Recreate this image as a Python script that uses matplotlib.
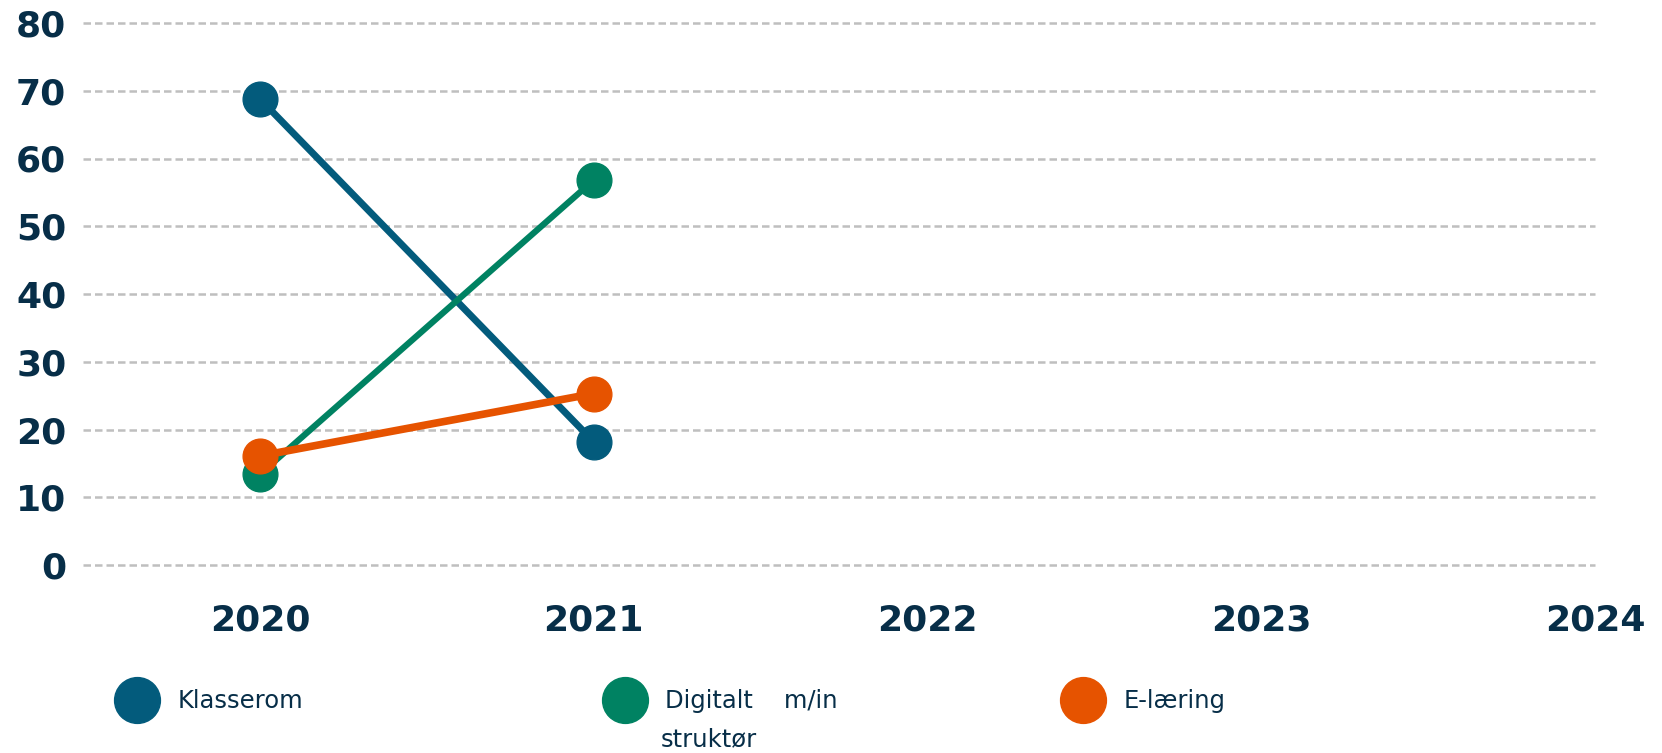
import matplotlib
matplotlib.use("Agg")
import matplotlib.pyplot as plt
from matplotlib.lines import Line2D

# data
years = [2020, 2021]
year_ticks = [2020, 2021, 2022, 2023, 2024]
klasserom = [68.8, 18.2]
digitalt = [13.4, 56.8]
elaering = [16.1, 25.3]
series_names = ["Klasserom", "Digitalt    m/in", "E-læring"]
series_colors = ["#035B7C", "#008262", "#E65300"]
y_ticks = [0, 10, 20, 30, 40, 50, 60, 70, 80]

text_col = "#072E48"
plt.rcParams['font.family'] = ['DejaVu Sans']

fig = plt.figure(figsize=(16.62, 7.53), dpi=100)
ax = fig.add_axes([83 / 1662, 188 / 753, 1512 / 1662, 542 / 753])

for vals, col, lw in zip([klasserom, digitalt, elaering], series_colors, [5, 4.5, 5.5]):
    ax.plot(years, vals, color=col, lw=lw, marker="o", markersize=25,
            solid_capstyle="butt", zorder=3)

ax.set_ylim(0, 80)
ax.set_xlim(2019.47, 2024)
ax.set_yticks(y_ticks)
ax.set_xticks(year_ticks)
ax.yaxis.grid(True, color="#BFBFBF", lw=1.8, ls=(0, (3.0, 1.6)), zorder=0)
for gl in ax.yaxis.get_gridlines():
    gl.set_clip_on(False)  # keep the 0 and 80 lines at full width
ax.tick_params(length=0)
ax.tick_params(axis="y", pad=12)
ax.tick_params(axis="x", pad=28)
for lab in ax.get_yticklabels() + ax.get_xticklabels():
    lab.set_fontsize(26)
    lab.set_fontweight("heavy")
    lab.set_color(text_col)
for s in ax.spines.values():
    s.set_visible(False)
ax.set_facecolor("none")

# legend entries, placed one by one like the original
leg_x = [138, 626, 1084]
for name, col, xc in zip(series_names, series_colors, leg_x):
    h = Line2D([], [], marker="o", ls="none", color=col, markersize=33)
    leg = fig.legend([h], [name], loc="upper left",
                     bbox_to_anchor=((xc - 25) / 1662, 1 - 677 / 753),
                     frameon=False, borderpad=0, handlelength=1.0,
                     handletextpad=1.15, fontsize=17.5, labelcolor=text_col)
# second line of the "Digitalt m/in struktør" label
fig.text(661 / 1662, 1 - 739 / 753, "struktør", fontsize=17.5,
         color=text_col, va="center", ha="left")

fig.savefig("out.png", dpi=100)
